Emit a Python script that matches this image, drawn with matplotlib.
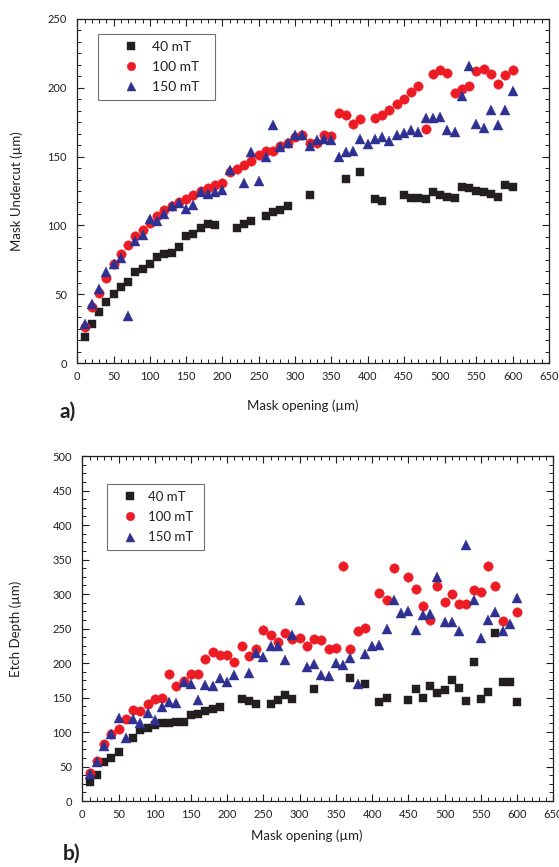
import matplotlib
matplotlib.use("Agg")
import matplotlib.pyplot as plt
from matplotlib.ticker import MultipleLocator
from matplotlib.lines import Line2D
from matplotlib.legend_handler import HandlerLine2D

plt.rcParams['font.family'] = ['Lato', 'DejaVu Sans']

# ---------------- data: (a) Mask undercut ----------------
a40_x = [10, 20, 30, 40, 50, 60, 70, 80, 90, 100, 110, 120, 130, 140, 150, 160, 170, 180, 190,
         220, 230, 240, 260, 270, 280, 290, 320, 370, 390, 410, 420, 450, 460, 470, 480, 490,
         500, 510, 520, 530, 540, 550, 560, 570, 580, 590, 600]
a40_y = [19, 28, 37, 44, 50, 55, 59, 66, 68, 72, 77, 79, 80, 84, 92, 94, 98, 101, 100,
         98, 101, 103, 107, 110, 111, 114, 122, 134, 139, 119, 118, 122, 120, 120, 119, 124,
         122, 121, 120, 128, 127, 125, 124, 123, 121, 129, 128]

a100_x = [10, 20, 30, 40, 50, 60, 70, 80, 90, 100, 110, 120, 130, 140, 150, 160, 170, 180, 190, 200,
          210, 220, 230, 240, 250, 260, 270, 280, 290, 300, 310, 320, 330, 340, 350,
          360, 370, 380, 390,
          410, 420, 430, 440, 450, 460, 470, 480, 490, 500, 510, 520, 530, 540, 550, 560, 570, 580, 590, 600]
a100_y = [26, 41, 51, 62, 72, 79, 86, 92, 97, 102, 107, 111, 114, 117, 119, 122, 125, 127, 129, 131,
          139, 141, 144, 147, 151, 154, 154, 158, 160, 164, 166, 160, 160, 166, 165,
          182, 180, 174, 177,
          178, 180, 184, 188, 192, 197, 201, 170, 210, 213, 211, 196, 199, 201, 212, 214, 210, 203, 209, 213]

a150_x = [10, 20, 30, 40, 50, 60, 70, 80, 90, 100, 110, 120, 130, 140, 150, 160, 170, 180, 190, 200,
          210, 230, 240, 250, 260, 270, 280, 290, 300, 310, 320, 330, 340, 350, 360, 370, 380, 390,
          400, 410, 420, 430, 440, 450, 460, 470, 480, 490, 500, 510, 520, 530, 540, 550, 560, 570,
          580, 590, 600]
a150_y = [28, 43, 54, 66, 72, 76, 34, 89, 93, 105, 103, 108, 114, 116, 112, 115, 124, 123, 124, 126,
          140, 131, 153, 132, 150, 173, 157, 160, 166, 166, 158, 162, 163, 162, 150, 153, 154, 163,
          159, 163, 164, 161, 166, 167, 169, 168, 178, 178, 179, 169, 168, 194, 216, 174, 171, 184,
          173, 184, 198]

# ---------------- data: (b) Etch depth ----------------
b40_x = [10, 20, 30, 40, 50, 70, 80, 90, 100, 110, 120, 130, 140, 150, 160, 170, 180, 190,
         220, 230, 240, 260, 270, 280, 290, 320, 370, 390, 410, 420, 450, 460, 470, 480, 490,
         500, 510, 520, 530, 540, 550, 560, 570, 580, 590, 600]
b40_y = [27, 37, 56, 63, 71, 91, 103, 106, 110, 113, 113, 114, 115, 125, 126, 130, 134, 136,
         148, 145, 140, 140, 146, 153, 148, 162, 179, 169, 143, 149, 147, 163, 149, 167, 156,
         161, 175, 164, 145, 202, 148, 158, 244, 173, 172, 144]

b100_x = [10, 20, 30, 40, 50, 60, 70, 80, 90, 100, 110, 120, 130, 140, 150, 160, 170, 180, 190, 200,
          210, 220, 230, 240, 250, 260, 270, 280, 290, 300, 310, 320, 330, 340, 350, 360, 370, 380, 390,
          410, 420, 430, 450, 460, 470, 480, 490, 500, 510, 520, 530, 540, 550, 560, 570, 580, 600]
b100_y = [40, 58, 83, 97, 104, 119, 132, 130, 141, 148, 150, 184, 167, 174, 184, 184, 206, 216, 212, 212,
          202, 224, 210, 220, 248, 240, 230, 244, 235, 237, 225, 235, 233, 220, 222, 341, 221, 246, 251,
          301, 292, 338, 324, 308, 282, 263, 311, 288, 300, 286, 286, 306, 303, 341, 312, 261, 274]

b150_x = [10, 20, 30, 40, 50, 60, 70, 80, 90, 100, 110, 120, 130, 140, 150, 160, 170, 180, 190, 200,
          210, 230, 240, 250, 260, 270, 280, 290, 300, 310, 320, 330, 340, 350, 360, 370, 380, 390,
          400, 410, 420, 430, 440, 450, 460, 470, 480, 490, 500, 510, 520, 530, 540, 550, 560, 570,
          580, 590, 600]
b150_y = [39, 56, 80, 97, 121, 92, 119, 113, 128, 118, 136, 143, 142, 172, 169, 147, 168, 166, 178, 172,
          183, 185, 214, 209, 225, 224, 205, 241, 292, 194, 198, 183, 181, 200, 197, 208, 169, 213,
          225, 226, 249, 291, 273, 276, 248, 270, 271, 325, 260, 259, 247, 371, 292, 237, 262, 274,
          247, 256, 294]

labels = ['40 mT', '100 mT', '150 mT']
x_ticks = [0, 50, 100, 150, 200, 250, 300, 350, 400, 450, 500, 550, 600, 650]

BLACK = '#231f20'
RED = '#ed1c24'
BLUE = '#2e3192'

fig = plt.figure(figsize=(5.59, 8.67), dpi=100)
ax1 = fig.add_axes([0.1383, 0.5813, 0.8438, 0.3968])
ax2 = fig.add_axes([0.1472, 0.0761, 0.8426, 0.3979])


def style(ax, ymax, ymajor, yminor, ylabel, ylab_x, xlab_y):
    ax.set_xlim(0, 650)
    ax.set_ylim(0, ymax)
    ax.set_xticks(x_ticks)
    ax.xaxis.set_minor_locator(MultipleLocator(10))
    ax.yaxis.set_major_locator(MultipleLocator(ymajor))
    ax.yaxis.set_minor_locator(MultipleLocator(yminor))
    ax.tick_params(which='both', direction='in', top=True, right=True,
                   colors=BLACK, labelcolor=BLACK, labelsize=8)
    ax.tick_params(which='major', length=5, width=0.8)
    ax.tick_params(which='minor', length=3, width=0.7)
    ax.tick_params(axis='y', which='major', pad=7.5)
    ax.tick_params(axis='x', which='major', pad=6)
    for s in ax.spines.values():
        s.set_color(BLACK)
        s.set_linewidth(0.9)
    ax.set_xlabel('Mask opening (µm)', fontsize=9.5, color=BLACK)
    ax.xaxis.set_label_coords(0.477, xlab_y)
    ax.set_ylabel(ylabel, fontsize=9.5, color=BLACK)
    ax.yaxis.set_label_coords(ylab_x, 0.5)


def draw(ax, series, bbox, legfs, hlen, xpad, lspace, bpad):
    (x40, y40), (x100, y100), (x150, y150) = series
    ax.plot(x40, y40, ls='none', marker='s', ms=5.8, mfc=BLACK, mec=BLACK, mew=0.3, label=labels[0])
    ax.plot(x100, y100, ls='none', marker='o', ms=6.8, mfc=RED, mec=RED, mew=0.3, label=labels[1])
    ax.plot(x150, y150, ls='none', marker='^', ms=7.2, mfc=BLUE, mec=BLUE, mew=0.3, label=labels[2])
    leg = ax.legend(loc='upper left', bbox_to_anchor=bbox, mode='expand', borderaxespad=0,
                    fontsize=legfs, frameon=True, fancybox=False, edgecolor='#4d4d4d',
                    handletextpad=0.2, labelspacing=lspace, borderpad=bpad, handlelength=hlen,
                    markerscale=0.9, handler_map={Line2D: HandlerLine2D(xpad=xpad)})
    leg.get_frame().set_linewidth(0.8)
    for t in leg.get_texts():
        t.set_color(BLACK)


style(ax1, 250, 50, 50 / 6, 'Mask Undercut (µm)', -0.116, -0.105)
draw(ax1, [(a40_x, a40_y), (a100_x, a100_y), (a150_x, a150_y)],
     (0.0432, 0.70, 0.2487, 0.2564), 10, 3.22, 0.6, 0.6, 0.48)

style(ax2, 500, 50, 12.5, 'Etch Depth (µm)', -0.128, -0.082)
draw(ax2, [(b40_x, b40_y), (b100_x, b100_y), (b150_x, b150_y)],
     (0.0518, 0.70, 0.2072, 0.218), 9.5, 2.43, 0.1, 0.62, 0.5)

fig.text(68 / 559, 1 - 412 / 867, 'a)', fontsize=15, fontweight='bold', color=BLACK,
         ha='center', va='center')
fig.text(72 / 559, 1 - 854 / 867, 'b)', fontsize=15, fontweight='bold', color=BLACK,
         ha='center', va='center')

fig.savefig('out.png', dpi=100)
